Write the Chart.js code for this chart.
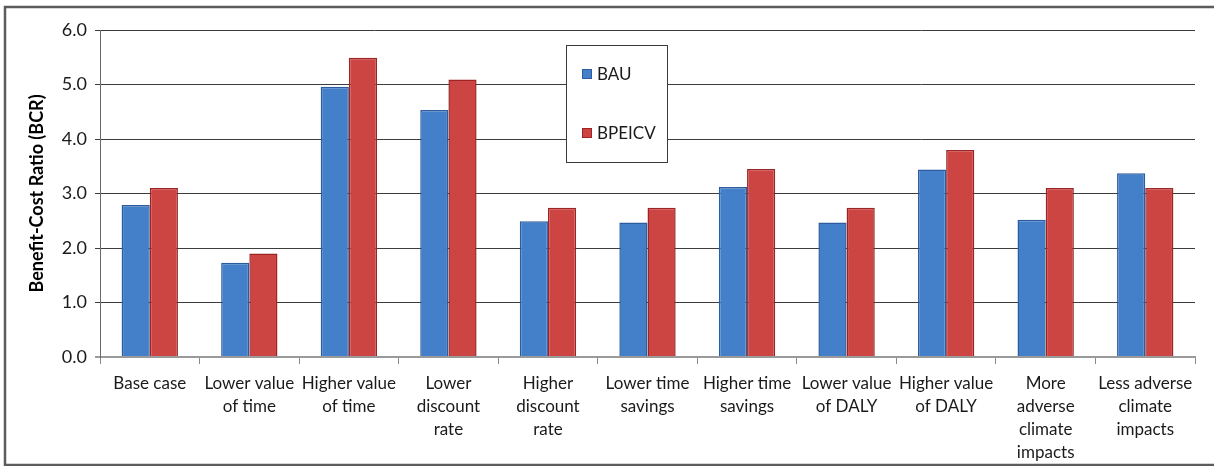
<!DOCTYPE html>
<html>
<head>
<meta charset="utf-8">
<script src="https://cdn.jsdelivr.net/npm/chart.js@4"></script>
<style>
  html, body { margin: 0; padding: 0; background: #fff; }
  #wrap { width: 1214px; height: 466px; position: relative; }
</style>
</head>
<body>
<div id="wrap"><canvas id="c" width="1214" height="466"></canvas></div>
<script>
// Sensitivity scenarios (x-axis categories, wrapped into lines)
const categories = [
  'Base case',
  ['Lower value', 'of time'],
  ['Higher value', 'of time'],
  ['Lower', 'discount', 'rate'],
  ['Higher', 'discount', 'rate'],
  ['Lower time', 'savings'],
  ['Higher time', 'savings'],
  ['Lower value', 'of DALY'],
  ['Higher value', 'of DALY'],
  ['More', 'adverse', 'climate', 'impacts'],
  ['Less adverse', 'climate', 'impacts']
];

// Benefit-cost ratios per scenario
const bauValues    = [2.79, 1.73, 4.96, 4.53, 2.49, 2.47, 3.12, 2.47, 3.44, 2.52, 3.37];
const bpeicvValues = [3.10, 1.90, 5.49, 5.09, 2.74, 2.74, 3.45, 2.74, 3.80, 3.10, 3.10];

const seriesNames = ['BAU', 'BPEICV'];
const yTicks = [0, 1, 2, 3, 4, 5, 6];

const FONT = 'Lato, "Open Sans", sans-serif';

// Frame around the whole figure
const framePlugin = {
  id: 'frame',
  beforeDraw(chart) {
    const ctx = chart.ctx;
    ctx.save();
    ctx.fillStyle = '#ffffff';
    ctx.fillRect(0, 0, chart.width, chart.height);
    ctx.strokeStyle = '#5c5c5c';
    ctx.lineWidth = 2.5;
    ctx.beginPath();
    ctx.moveTo(chart.width, 7);
    ctx.lineTo(5, 7);
    ctx.lineTo(5, 465);
    ctx.lineTo(chart.width, 465);
    ctx.stroke();
    ctx.restore();
  }
};

// Boxed legend placed inside the plot area
const boxLegendPlugin = {
  id: 'boxLegend',
  afterDatasetsDraw(chart) {
    const ctx = chart.ctx;
    const x0 = 566, y0 = 45, w = 101, h = 117;
    ctx.save();
    ctx.fillStyle = '#ffffff';
    ctx.fillRect(x0, y0, w, h);
    ctx.strokeStyle = '#3a3a3a';
    ctx.lineWidth = 1;
    ctx.strokeRect(x0 + 0.5, y0 + 0.5, w, h);
    const rows = [74, 133];
    ctx.font = '17px ' + FONT;
    ctx.textBaseline = 'middle';
    chart.data.datasets.forEach((ds, i) => {
      const y = rows[i];
      ctx.fillStyle = ds.backgroundColor;
      ctx.fillRect(582, y - 5, 10, 10);
      ctx.strokeStyle = ds.borderColor;
      ctx.strokeRect(582.5, y - 4.5, 9, 9);
      ctx.fillStyle = '#1a1a1a';
      ctx.fillText(ds.label, 597, y + 1);
    });
    ctx.restore();
  }
};

new Chart(document.getElementById('c'), {
  type: 'bar',
  data: {
    labels: categories,
    datasets: [
      {
        label: seriesNames[0],
        data: bauValues,
        backgroundColor: '#4480CA',
        borderColor: '#2C5C9E',
        borderWidth: 1.5,
        categoryPercentage: 0.566,
        barPercentage: 1.0
      },
      {
        label: seriesNames[1],
        data: bpeicvValues,
        backgroundColor: '#CD4543',
        borderColor: '#9C2424',
        borderWidth: 1.5,
        categoryPercentage: 0.566,
        barPercentage: 1.0
      }
    ]
  },
  options: {
    responsive: false,
    animation: false,
    devicePixelRatio: 1,
    layout: { padding: { left: 5, right: 19, top: 30, bottom: 0 } },
    plugins: {
      legend: { display: false },
      tooltip: { enabled: false }
    },
    scales: {
      x: {
        grid: {
          drawOnChartArea: false,
          drawTicks: true,
          tickLength: 7,
          color: '#8a8a8a',
          offset: true
        },
        border: { display: true, color: '#9a9a9a', width: 2 },
        ticks: {
          color: '#1a1a1a',
          font: { family: FONT, size: 17, lineHeight: 1.35 },
          padding: 8,
          maxRotation: 0,
          autoSkip: false
        },
        afterFit(scale) { scale.height = 109; }
      },
      y: {
        min: 0,
        max: 6,
        afterBuildTicks(scale) { scale.ticks = yTicks.map(v => ({ value: v })); },
        grid: {
          color: ctx => (ctx.tick && ctx.tick.value === 0) ? '#9a9a9a' : '#3c3c3c',
          lineWidth: ctx => (ctx.tick && ctx.tick.value === 0) ? 2 : 1,
          drawTicks: true,
          tickLength: 5
        },
        border: { display: true, color: '#6a6a6a', width: 1 },
        ticks: {
          color: '#1a1a1a',
          font: { family: FONT, size: 18 },
          padding: 8,
          callback: v => Number(v).toFixed(1)
        },
        title: {
          display: true,
          text: 'Benefit-Cost Ratio (BCR)',
          color: '#000',
          font: { family: FONT, size: 18, weight: 'bold' },
          padding: { top: 21, bottom: 0 }
        },
        afterFit(scale) { scale.width = 95; }
      }
    }
  },
  plugins: [framePlugin, boxLegendPlugin]
});
</script>
</body>
</html>
